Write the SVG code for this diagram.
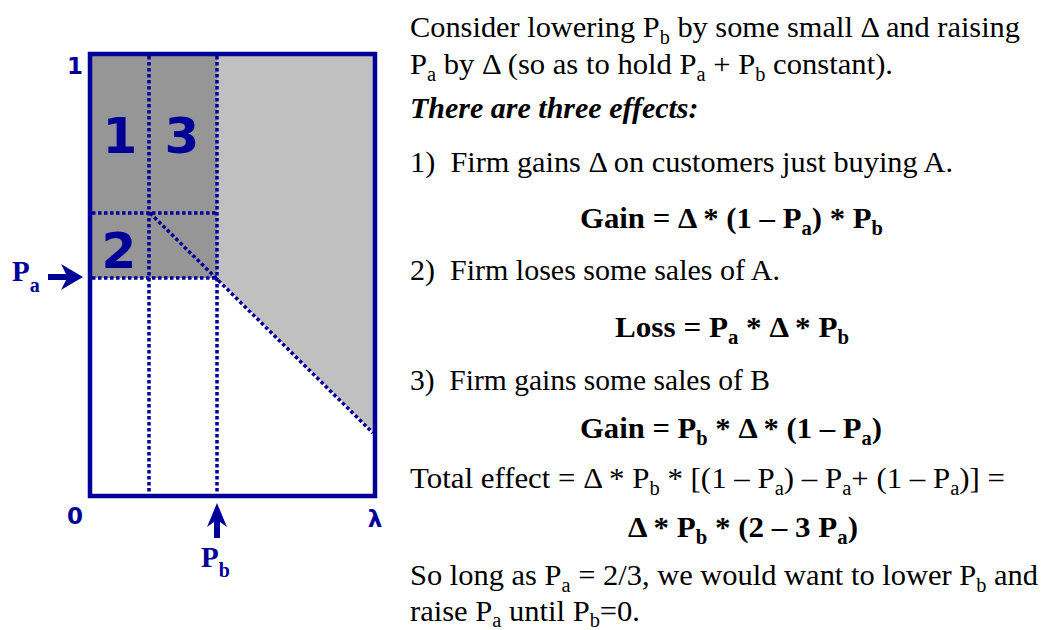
<svg xmlns="http://www.w3.org/2000/svg" width="1042" height="630" viewBox="0 0 1042 630">
<style>
.blue{fill:#000099}
.dot{stroke:#000099;stroke-width:3.5;stroke-dasharray:3.5 2.5;fill:none}
.ax{font-family:"DejaVu Sans",Verdana,sans-serif;font-weight:bold;fill:#000099}
.lbl{font-family:"Liberation Serif","Times New Roman",serif;font-weight:bold;fill:#000099}
.t{font-family:"Liberation Serif","Times New Roman",serif;font-size:30px;fill:#000}
.b{font-weight:bold}
.bi{font-weight:bold;font-style:italic}
.s{font-size:20px}
</style>
<rect width="1042" height="630" fill="#fff"/>
<g id="chart">
  <rect x="90" y="54" width="127" height="224" fill="#969696"/>
  <polygon points="217,54 375,54 375,434 217,278" fill="#c0c0c0"/>
  <g id="dotted-lines">
    <line class="dot" x1="149" y1="56" x2="149" y2="494"/>
    <line class="dot" x1="217" y1="56" x2="217" y2="494"/>
    <line class="dot" x1="92" y1="213" x2="217" y2="213"/>
    <line class="dot" x1="92" y1="278" x2="217" y2="278"/>
    <line class="dot" x1="150" y1="213" x2="373" y2="433"/>
  </g>
  <rect x="90" y="54" width="285" height="442" fill="none" stroke="#000099" stroke-width="4.5"/>
</g>
<g id="region-labels">
  <text class="ax" x="120" y="153" font-size="50" text-anchor="middle">1</text>
  <text class="ax" x="182" y="153" font-size="50" text-anchor="middle">3</text>
  <text class="ax" x="119" y="268" font-size="50" text-anchor="middle">2</text>
</g>
<g id="axis-labels">
  <text class="ax" x="75" y="74" font-size="23" text-anchor="middle">1</text>
  <text class="ax" x="75" y="524" font-size="23" text-anchor="middle">0</text>
  <text class="ax" x="375" y="527" font-size="23" text-anchor="middle">λ</text>
</g>
<g id="pa-marker">
  <text class="lbl" x="12" y="281" font-size="29">P<tspan font-size="20" dy="11">a</tspan></text>
  <polygon class="blue" points="48,274 66,274 61,264 83,277 61,290 66,280 48,280"/>
</g>
<g id="pb-marker">
  <polygon class="blue" points="214,538 214,522 207,527 217,503 227,527 220,522 220,538"/>
  <text class="lbl" x="201" y="567" font-size="29">P<tspan font-size="20" dy="10">b</tspan></text>
</g>
<g id="text">
  <text class="t" x="410" y="37" textLength="610" lengthAdjust="spacingAndGlyphs">Consider lowering P<tspan class="s" dy="7">b</tspan><tspan dy="-7"> by some small Δ and raising</tspan></text>
  <text class="t" x="410" y="74" textLength="483" lengthAdjust="spacingAndGlyphs">P<tspan class="s" dy="7">a</tspan><tspan dy="-7"> by Δ (so as to hold P</tspan><tspan class="s" dy="7">a</tspan><tspan dy="-7"> + P</tspan><tspan class="s" dy="7">b</tspan><tspan dy="-7"> constant).</tspan></text>
  <text class="t bi" x="410" y="118">There are three effects:</text>
  <text class="t" x="410" y="172" textLength="543" lengthAdjust="spacingAndGlyphs">1)&#160; Firm gains Δ on customers just buying A.</text>
  <text class="t b" x="580" y="228" textLength="303" lengthAdjust="spacingAndGlyphs">Gain = Δ * (1 – P<tspan class="s" dy="7">a</tspan><tspan dy="-7">) * P</tspan><tspan class="s" dy="7">b</tspan></text>
  <text class="t" x="410" y="280" textLength="370" lengthAdjust="spacingAndGlyphs">2)&#160; Firm loses some sales of A.</text>
  <text class="t b" x="615" y="337" textLength="234" lengthAdjust="spacingAndGlyphs">Loss = P<tspan class="s" dy="7">a</tspan><tspan dy="-7"> * Δ * P</tspan><tspan class="s" dy="7">b</tspan></text>
  <text class="t" x="410" y="390" textLength="360" lengthAdjust="spacingAndGlyphs">3)&#160; Firm gains some sales of B</text>
  <text class="t b" x="580" y="438" textLength="302" lengthAdjust="spacingAndGlyphs">Gain = P<tspan class="s" dy="7">b</tspan><tspan dy="-7"> * Δ * (1 – P</tspan><tspan class="s" dy="7">a</tspan><tspan dy="-7">)</tspan></text>
  <text class="t" x="410" y="488" textLength="595" lengthAdjust="spacingAndGlyphs">Total effect = Δ * P<tspan class="s" dy="7">b</tspan><tspan dy="-7"> * [(1 – P</tspan><tspan class="s" dy="7">a</tspan><tspan dy="-7">) – P</tspan><tspan class="s" dy="7">a</tspan><tspan dy="-7">+ (1 – P</tspan><tspan class="s" dy="7">a</tspan><tspan dy="-7">)] =</tspan></text>
  <text class="t b" x="628" y="537" textLength="230" lengthAdjust="spacingAndGlyphs">Δ * P<tspan class="s" dy="7">b</tspan><tspan dy="-7"> * (2 – 3 P</tspan><tspan class="s" dy="7">a</tspan><tspan dy="-7">)</tspan></text>
  <text class="t" x="410" y="585" textLength="628" lengthAdjust="spacingAndGlyphs">So long as P<tspan class="s" dy="7">a</tspan><tspan dy="-7"> = 2/3, we would want to lower P</tspan><tspan class="s" dy="7">b</tspan><tspan dy="-7"> and</tspan></text>
  <text class="t" x="410" y="621" textLength="230" lengthAdjust="spacingAndGlyphs">raise P<tspan class="s" dy="6">a</tspan><tspan dy="-6"> until P</tspan><tspan class="s" dy="6">b</tspan><tspan dy="-6">=0.</tspan></text>
</g>
</svg>
